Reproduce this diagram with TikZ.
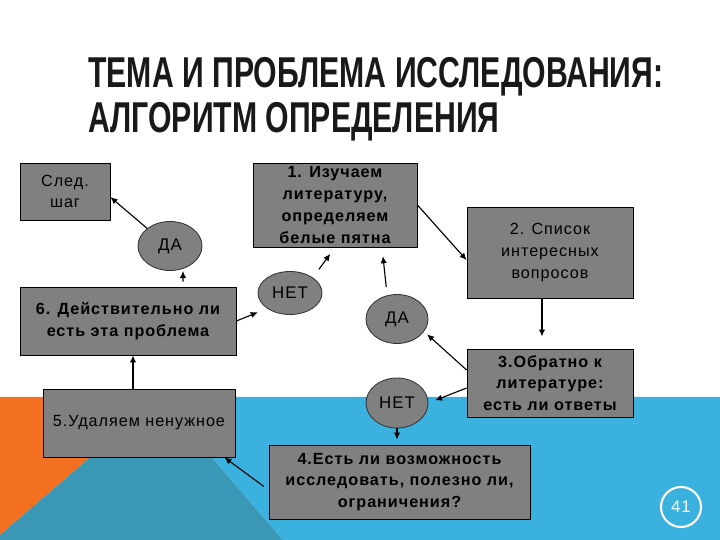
\documentclass[tikz,border=0pt]{standalone}
\usepackage{fontspec}
\setmainfont{Liberation Sans}[LetterSpace=6]
\newfontfamily\titlefont[FakeStretch=0.70]{Liberation Sans}
\usetikzlibrary{arrows.meta,shapes.geometric}
\definecolor{boxgray}{RGB}{128,128,128}
\definecolor{slideorange}{RGB}{243,112,33}
\definecolor{slideblue}{RGB}{58,177,222}
\definecolor{slideteal}{RGB}{58,151,181}
\tikzset{
  heading/.style={font=\titlefont\bfseries\fontsize{30.7}{32}\selectfont, text=black!90, inner sep=0pt},
  stepbox/.style={draw=black, fill=boxgray, line width=0.6pt, inner sep=0pt, align=center,
    font=\fontsize{11.5}{15.5}\selectfont},
  bold/.style={font=\fontsize{11.5}{15.5}\selectfont\bfseries},
  answer/.style={ellipse, draw=black!80, fill=boxgray, line width=0.6pt, inner sep=0pt,
    font=\fontsize{12}{14}\selectfont},
  arr/.style={draw, line width=0.8pt, -{Latex[length=5pt,width=4.5pt]}}
}
\begin{document}
\begin{tikzpicture}
\useasboundingbox (0,0) rectangle (18,13.5);
% background
\fill[white] (0,0) rectangle (18,13.5);
\fill[slideorange] (0,3.575) -- (4,3.575) -- (0,0.125) -- cycle;
\fill[slideteal] (4,3.575) -- (7.075,0) -- (0,0) -- (0,0.125) -- cycle;
\fill[slideblue] (4,3.575) -- (18,3.575) -- (18,0) -- (7.075,0) -- cycle;

\node[heading, anchor=base west] (title1) at (2.2,11.3) {ТЕМА И ПРОБЛЕМА ИССЛЕДОВАНИЯ:};
\node[heading, anchor=base west] (title2) at (2.2,10.175) {АЛГОРИТМ ОПРЕДЕЛЕНИЯ};

% steps
\node[stepbox, minimum width=2.25cm, minimum height=1.425cm] (next) at (1.625,8.7125) {След.\\шаг};
\node[stepbox, bold, minimum width=4.1cm, minimum height=2.1cm] (1) at (8.375,8.375) {1. Изучаем\\литературу,\\определяем\\белые пятна};
\node[stepbox, minimum width=4.15cm, minimum height=2.275cm] (2) at (13.75,7.1875) {2. Список\\интересных\\вопросов};
\node[stepbox, bold, minimum width=4.15cm, minimum height=1.7cm] (3) at (13.75,3.925) {3.Обратно к\\литературе:\\есть ли ответы};
\node[stepbox, bold, minimum width=6.525cm, minimum height=1.85cm] (4) at (9.9875,1.45) {4.Есть ли возможность\\исследовать, полезно ли,\\ограничения?};
\node[stepbox, minimum width=4.8cm, minimum height=1.7cm] (5) at (3.475,2.925) {5.Удаляем ненужное};
\node[stepbox, bold, minimum width=5.4cm, minimum height=1.7cm] (6) at (3.2,5.475) {6. Действительно ли\\есть эта проблема};

% answers
\node[answer, minimum width=1.6cm, minimum height=1.225cm] (yes1) at (4.25,7.35) {ДА};
\node[answer, minimum width=1.6cm, minimum height=1.075cm] (no1) at (7.25,6.175) {НЕТ};
\node[answer, minimum width=1.55cm, minimum height=1.225cm] (yes2) at (9.925,5.525) {ДА};
\node[answer, minimum width=1.55cm, minimum height=1.25cm] (no2) at (9.925,3.425) {НЕТ};

\node[circle, draw=white, line width=1.5pt, minimum size=1cm, text=white, font=\fontsize{12}{14}\selectfont] (page) at (17.025,0.825) {41};

\path[draw,arr] (yes1.north west) -- ([yshift=-0.14cm]next.east);
\path[draw,arr,shorten <=0.125cm] ([xshift=1.375cm]6.north) -- ([xshift=0.325cm]yes1.south);
\path[draw,arr,shorten >=0.25cm] (6.east) -- (no1.south west);
\path[draw,arr,shorten <=0.25cm,shorten >=0.2cm] (no1.north east) -- (1.south);
\path[draw,arr,shorten <=0.18cm,shorten >=0.22cm] ([xshift=-0.25cm]yes2.north) -- ([xshift=1.175cm]1.south);
\path[draw,arr] (1.east) -- ([yshift=-0.19cm]2.west);
\path[draw,arr,shorten >=0.3cm] ([xshift=-0.2cm]2.south) -- ([xshift=-0.2cm]3.north);
\path[draw,arr,shorten >=0.1cm] ([yshift=0.325cm]3.west) -- (yes2.-25);
\path[draw,arr,shorten >=0.18cm] ([yshift=-0.125cm]3.west) -- (no2.east);
\path[draw,arr,shorten >=0.125cm] (no2.south) -- (no2.south |- 4.north);
\path[draw,arr,shorten <=0.15cm] ([yshift=-0.2cm]4.west) -- ([xshift=-0.275cm]5.south east);
\path[draw,arr] ([xshift=-0.15cm]5.north) -- ([xshift=-0.15cm]5.north |- 6.south);
\end{tikzpicture}
\end{document}
